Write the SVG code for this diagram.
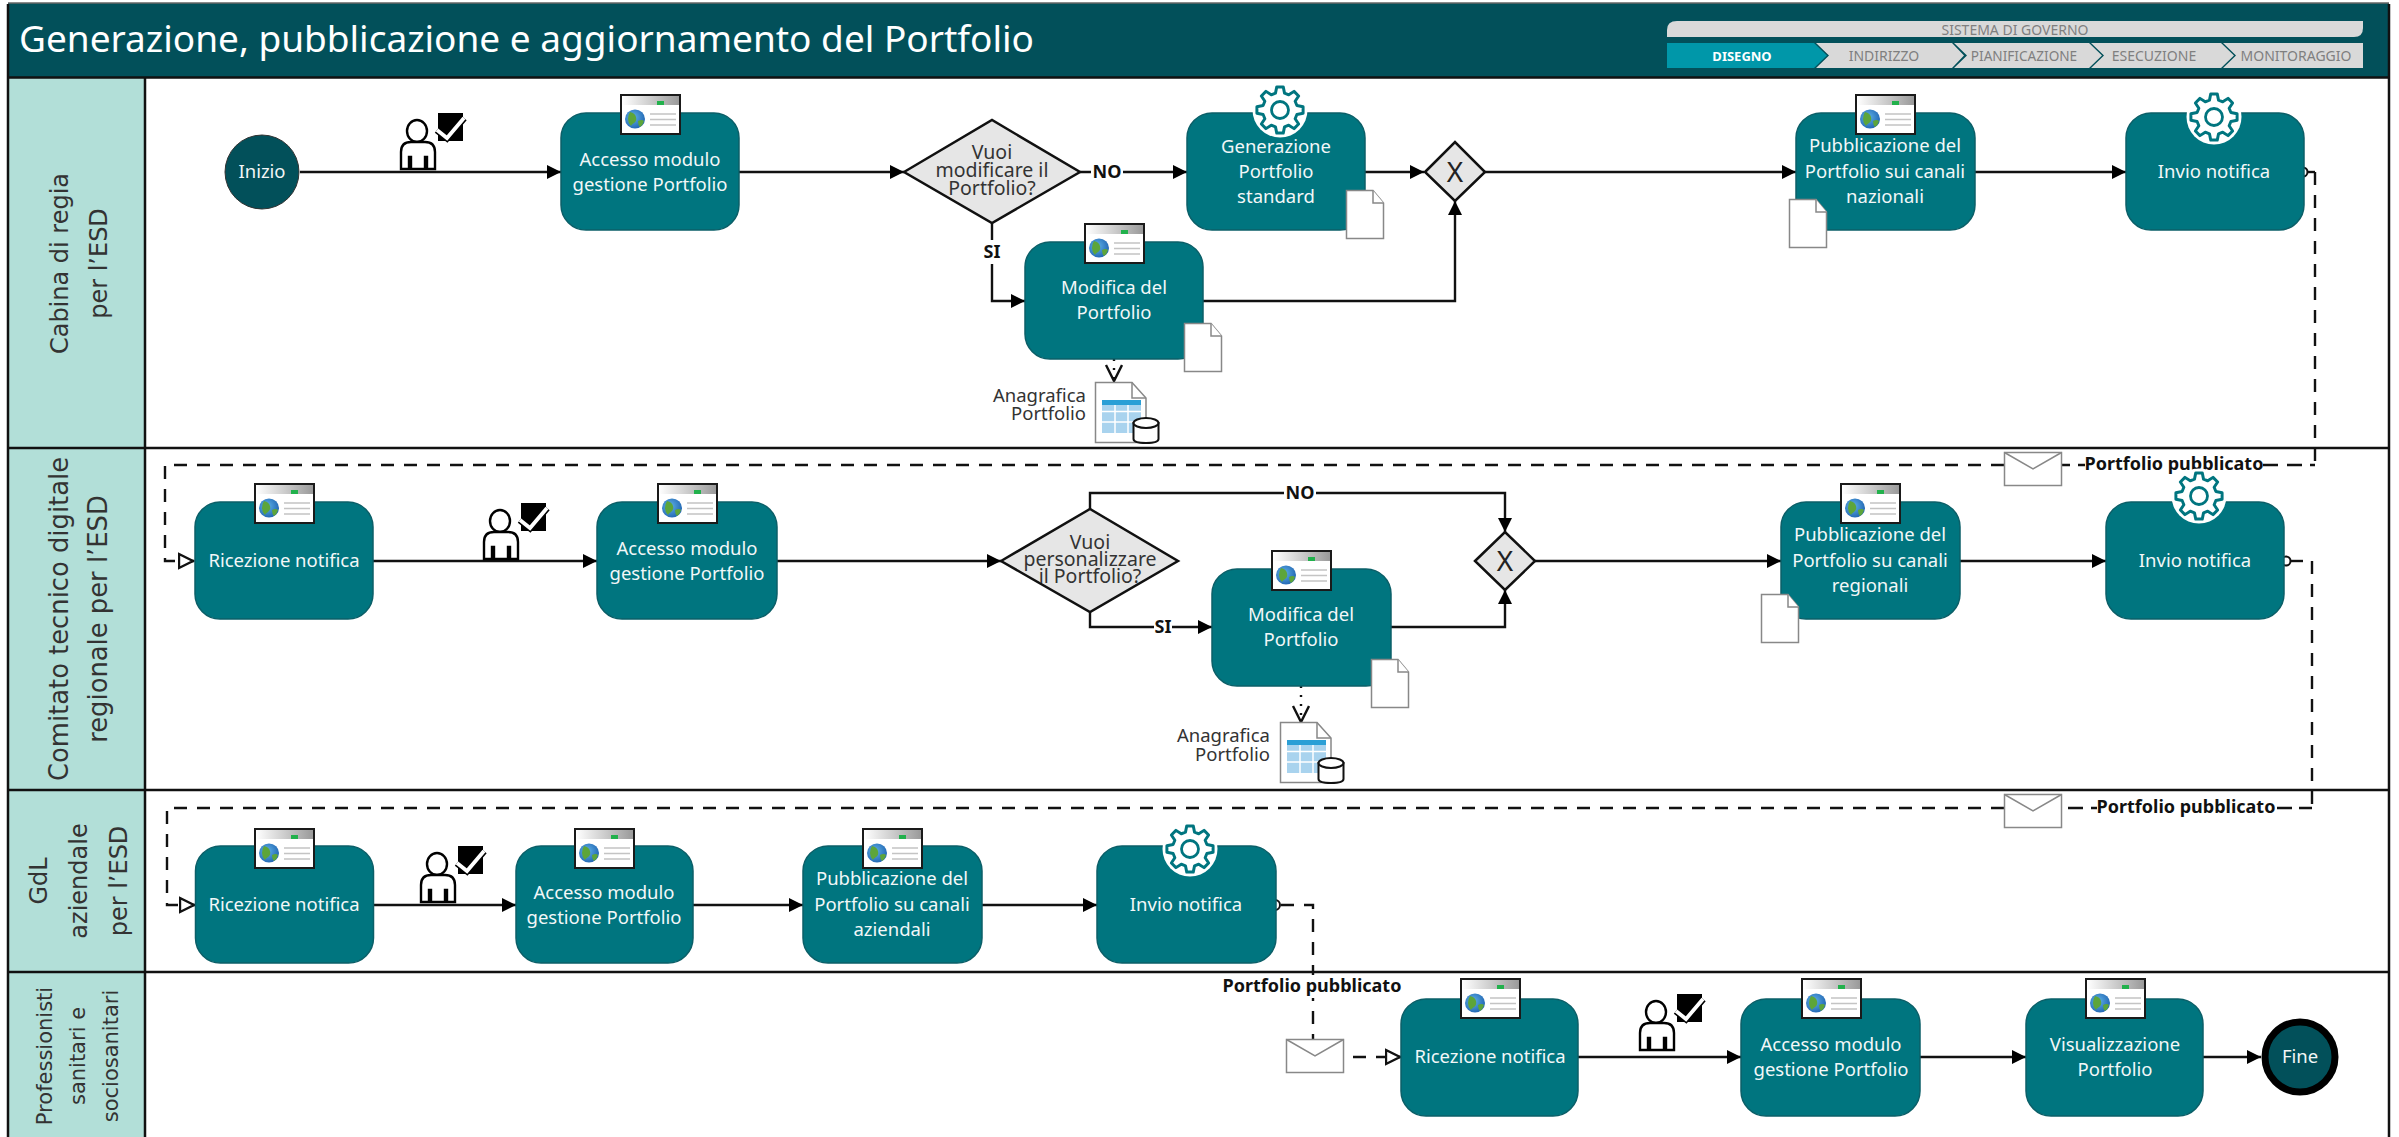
<svg xmlns="http://www.w3.org/2000/svg" xmlns:xlink="http://www.w3.org/1999/xlink" width="2399" height="1137" viewBox="0 0 2399 1137">
<style>
text{font-family:"Noto Sans","Open Sans","Liberation Sans",sans-serif}
.box{fill:#00757f;stroke:#0b5f68;stroke-width:1.5}
.bt{fill:#fff;font-size:18.5px;text-anchor:middle;opacity:.95}
.dec{fill:#e6e6e6;stroke:#111;stroke-width:2.5}
.dt{fill:#333;font-size:19.5px;text-anchor:middle}
.lane{fill:#b2dfd8}
.lt{font-family:"DejaVu Sans",sans-serif;fill:#333;text-anchor:middle}
.ln{fill:none;stroke:#111;stroke-width:2.5}
.flow{fill:none;stroke:#111;stroke-width:2.4;marker-end:url(#a)}
.msg{fill:none;stroke:#111;stroke-width:2.4;stroke-dasharray:13 10}
.sol{fill:none;stroke:#111;stroke-width:2.4}
.lb{fill:#111;font-size:18px;font-weight:700;text-anchor:middle}
.ti{font-size:14px;text-anchor:middle;fill:#7f7f7f}
.doc{fill:#fff;stroke:#888;stroke-width:1.5}
</style>
<defs>
<marker id="a" markerUnits="userSpaceOnUse" markerWidth="15" markerHeight="14" refX="14" refY="7" orient="auto"><path d="M0 0L14 7L0 14Z" fill="#000"/></marker>
<marker id="o" markerUnits="userSpaceOnUse" markerWidth="18" markerHeight="18" refX="16" refY="9" orient="auto"><path d="M1 2L15 9L1 16Z" fill="#fff" stroke="#111" stroke-width="2.4"/></marker>
<marker id="v" markerUnits="userSpaceOnUse" markerWidth="20" markerHeight="20" refX="17" refY="9" orient="auto"><path d="M1 1L17 9L1 17" fill="none" stroke="#111" stroke-width="2.4"/></marker>
<linearGradient id="bar" x1="0" x2="1" y1="0" y2="0"><stop offset="0" stop-color="#fff"/><stop offset="1" stop-color="#9a9a9a"/></linearGradient>
<radialGradient id="gl" cx=".4" cy=".4" r=".7"><stop offset="0" stop-color="#5fb2e8"/><stop offset="1" stop-color="#1c5fae"/></radialGradient>
<symbol id="browser" width="61" height="41" viewBox="0 0 61 41" overflow="visible">
<rect x="1" y="1" width="59" height="39" fill="#fff" stroke="#1a1a1a" stroke-width="2"/>
<rect x="2" y="2" width="57" height="9" fill="url(#bar)"/>
<rect x="37" y="7" width="7" height="4" fill="#22b14c"/>
<ellipse cx="15" cy="25" rx="10" ry="9.500" fill="url(#gl)"/>
<path d="M10 18q5 1 6 5t-2 6t-3 3q-3-3-3-7t2-7zM18 27q4-2 6 0q-1 4-4 6q-2-2-2-6z" fill="#5da53a"/>
<path d="M30 20H56M30 25.500H56M30 31H56" stroke="#c4c4c4" stroke-width="1.300" fill="none"/>
</symbol>
<symbol id="gear" width="60" height="60" viewBox="-30 -30 60 60" overflow="visible">
<circle r="27.500" fill="#fff"/>
<polygon transform="scale(1.060)" fill="#fff" stroke="#00757f" stroke-width="2.800" stroke-linejoin="round" points="-4.270,-15.940 -3.060,-21.790 3.060,-21.790 4.270,-15.940 8.250,-14.290 13.240,-17.570 17.570,-13.240 14.290,-8.250 15.940,-4.270 21.790,-3.060 21.790,3.060 15.940,4.270 14.290,8.250 17.570,13.240 13.240,17.570 8.250,14.290 4.270,15.940 3.060,21.790 -3.060,21.790 -4.270,15.940 -8.250,14.290 -13.240,17.570 -17.570,13.240 -14.290,8.250 -15.940,4.270 -21.790,3.060 -21.790,-3.060 -15.940,-4.270 -14.290,-8.250 -17.570,-13.240 -13.240,-17.570 -8.250,-14.290"/>
<circle r="8.500" fill="#fff" stroke="#00757f" stroke-width="2.800"/>
</symbol>
<symbol id="doc" width="38" height="49" viewBox="0 0 38 49" overflow="visible">
<path class="doc" d="M.5 .5H27L37.500 13V48.500H.5Z"/><path class="doc" d="M27 .5V13H37.500"/>
</symbol>
<symbol id="env" width="58" height="34" viewBox="0 0 58 34" overflow="visible">
<rect x=".5" y=".5" width="57" height="33" fill="#fff" stroke="#888" stroke-width="1.500"/>
<path d="M.5 .5L29 17L57.500 .5" fill="none" stroke="#888" stroke-width="1.500"/>
</symbol>
<symbol id="user" width="70" height="60" viewBox="0 0 70 60" overflow="visible">
<ellipse cx="17" cy="19" rx="10" ry="11" fill="#fff" stroke="#000" stroke-width="2.400"/>
<path d="M1 57V40q0-10 10-10H25q10 0 10 10V57H27V45H25V57H11V45H9V57Z" fill="#fff" stroke="#000" stroke-width="2.400"/>
<rect x="38" y="1" width="25" height="28" fill="#000"/>
<path d="M37 18L47 26L64 6" fill="none" stroke="#000" stroke-width="7"/>
<path d="M37 18L47 26L64 6" fill="none" stroke="#fff" stroke-width="3.800"/>
</symbol>
<symbol id="ana" width="64" height="62" viewBox="0 0 64 62" overflow="visible">
<path d="M.5 .5H37L51 16V60.500H.5Z" fill="#fff" stroke="#888" stroke-width="1.500"/>
<path d="M37 .5V16H51" fill="none" stroke="#888" stroke-width="1.500"/>
<rect x="7" y="18" width="39" height="33" fill="#a9d3ee"/>
<rect x="7" y="18" width="39" height="5" fill="#2a9fd6"/>
<path d="M7 29.500H46M7 40H46M20 23V51M33 23V51" stroke="#fff" stroke-width="1.500"/>
<path d="M38.500 41V57q0 4 12.500 4t12.500-4V41Z" fill="#fff" stroke="#111" stroke-width="2"/>
<ellipse cx="51" cy="41" rx="12.500" ry="5" fill="#fff" stroke="#111" stroke-width="2"/>
</symbol>
</defs>
<rect width="2399" height="1137" fill="#fff"/>
<g id="lanes">
<rect x="8" y="3" width="2381" height="74" fill="#02505a"/>
<rect class="lane" x="8" y="77" width="137" height="1060"/>
<path class="ln" d="M8 4V1137M2389 4V1137M145 77V1137M8 77.500H2389M8 448H2389M8 790H2389M8 972H2389"/>
<path d="M8 3H2389" stroke="#666" stroke-width="1.500"/>
</g>
<g id="header">
<text x="19" y="52" font-size="37" fill="#fff">Generazione, pubblicazione e aggiornamento del Portfolio</text>
<path d="M1677 21H2363V28Q2363 37 2354 37H1667V30Q1667 21 1677 21Z" fill="#d9d9d9"/>
<text class="ti" x="2015" y="34.500">SISTEMA DI GOVERNO</text>
<polygon points="1667,43 1814,43 1827,55.500 1814,68 1667,68" fill="#0097a9"/>
<polygon points="1816,43 1952,43 1964,55.500 1952,68 1816,68 1829,55.500" fill="#d9d9d9"/>
<polygon points="1954,43 2089,43 2102,55.500 2089,68 1954,68 1967,55.500" fill="#d9d9d9"/>
<polygon points="2091,43 2221,43 2234,55.500 2221,68 2091,68 2104,55.500" fill="#d9d9d9"/>
<polygon points="2223,43 2363,43 2363,68 2223,68 2236,55.500" fill="#d9d9d9"/>
<text class="ti" x="1742" y="60.500" style="fill:#fff;font-weight:700;font-size:13px">DISEGNO</text>
<text class="ti" x="1884" y="60.500">INDIRIZZO</text>
<text class="ti" x="2024" y="60.500" style="font-size:13.600px">PIANIFICAZIONE</text>
<text class="ti" x="2154" y="60.500">ESECUZIONE</text>
<text class="ti" x="2296" y="60.500">MONITORAGGIO</text>
</g>
<g id="lane-labels">
<g transform="translate(68 263.500) rotate(-90)" font-size="24"><text class="lt">Cabina di regia</text><text class="lt" y="39">per l’ESD</text></g>
<g transform="translate(68 619) rotate(-90)" font-size="25.800"><text class="lt">Comitato tecnico digitale</text><text class="lt" y="39">regionale per l’ESD</text></g>
<g transform="translate(47 881) rotate(-90)" font-size="24"><text class="lt">GdL</text><text class="lt" y="40">aziendale</text><text class="lt" y="80">per l’ESD</text></g>
<g transform="translate(52 1056) rotate(-90)" font-size="21"><text class="lt">Professionisti</text><text class="lt" y="33">sanitari e</text><text class="lt" y="66">sociosanitari</text></g>
</g>
<g id="connectors">
<path class="flow" d="M300 172H561"/>
<path class="flow" d="M739 172H904"/>
<path class="flow" d="M1080 172H1187"/>
<path class="flow" d="M1365 172H1424"/>
<path class="flow" d="M1485 172H1796"/>
<path class="flow" d="M992 223V301H1025"/>
<path class="flow" d="M1203 301H1455V201"/>
<path class="flow" d="M1975 172H2126"/>
<path class="flow" d="M373 561H597"/>
<path class="flow" d="M777 561H1001"/>
<path class="flow" d="M1090 509V493H1505V532"/>
<path class="flow" d="M1090 612V627H1212"/>
<path class="flow" d="M1391 627H1505V590"/>
<path class="flow" d="M1535 561H1781"/>
<path class="flow" d="M1960 561H2106"/>
<path class="flow" d="M373 905H516"/>
<path class="flow" d="M693 905H803"/>
<path class="flow" d="M982 905H1097"/>
<path class="flow" d="M1578 1057H1741"/>
<path class="flow" d="M1920 1057H2026"/>
<path class="flow" d="M2203 1057H2261"/>
<path class="sol" d="M2307 172H2315"/>
<path class="msg" d="M2315 172V465"/>
<path class="sol" d="M2062 465H2070M2078 465H2085M2263 465H2278M2287 465H2302M2310 465H2315"/>
<path class="msg" d="M2004 465H165V561H194" marker-end="url(#o)"/>
<path class="sol" d="M2288 561H2303"/>
<path class="msg" d="M2312 561V808"/>
<path class="sol" d="M2068 808H2083M2091 808H2097M2277 808H2292M2299 808H2312"/>
<path class="msg" d="M2004 808H167V905H195" marker-end="url(#o)"/>
<path class="msg" d="M1281 905H1313V1039"/>
<path class="msg" d="M1353 1057H1401" marker-end="url(#o)"/>
<path d="M1114 359V381" fill="none" stroke="#111" stroke-width="2.400" stroke-dasharray="2 7" marker-end="url(#v)"/>
<path d="M1301 686V722" fill="none" stroke="#111" stroke-width="2.400" stroke-dasharray="2 7" marker-end="url(#v)"/>
<circle cx="2303" cy="172" r="4.500" fill="#fff" stroke="#111" stroke-width="2"/>
<circle cx="2286" cy="561" r="4.500" fill="#fff" stroke="#111" stroke-width="2"/>
<circle cx="1275" cy="905" r="5" fill="#fff" stroke="#111" stroke-width="2"/>
<use href="#env" x="2004" y="452"/>
<use href="#env" x="2004" y="794"/>
<use href="#env" x="1286" y="1039"/>
<use href="#user" x="400" y="112"/>
<use href="#user" x="483" y="502"/>
<use href="#user" x="420" y="845"/>
<use href="#user" x="1639" y="993"/>
<g id="labels">
<rect x="1091" y="160" width="32" height="24" fill="#fff"/><text class="lb" x="1107" y="178">NO</text>
<rect x="982" y="240" width="20" height="24" fill="#fff"/><text class="lb" x="992" y="258">SI</text>
<rect x="1284" y="482" width="32" height="24" fill="#fff"/><text class="lb" x="1300" y="499">NO</text>
<rect x="1154" y="615" width="18" height="24" fill="#fff"/><text class="lb" x="1163" y="633">SI</text>
<text class="lb" x="2174" y="470">Portfolio pubblicato</text>
<text class="lb" x="2186" y="813">Portfolio pubblicato</text>
<rect x="1224" y="975" width="177" height="23" fill="#fff"/><text class="lb" x="1312" y="992">Portfolio pubblicato</text>
</g>
</g>
<g id="n-inizio"><circle cx="262" cy="172" r="37" fill="#02505a" stroke="#333" stroke-width="1"/><text class="bt" x="262" y="178">Inizio</text></g>
<g id="n-accesso1"><rect class="box" x="561" y="113" width="178" height="117" rx="25"/><use href="#browser" x="620" y="94"/><text class="bt" x="650" y="166">Accesso modulo</text><text class="bt" x="650" y="191">gestione Portfolio</text></g>
<g id="n-dec1"><polygon class="dec" points="904,172 992,120 1080,172 992,223"/><text class="dt" y="159"><tspan x="992">Vuoi</tspan><tspan x="992" dy="18">modificare il</tspan><tspan x="992" dy="18">Portfolio?</tspan></text></g>
<g id="n-gen"><rect class="box" x="1187" y="113" width="178" height="117" rx="25"/><use href="#gear" x="1250" y="80"/><text class="bt" x="1276" y="153">Generazione</text><text class="bt" x="1276" y="178">Portfolio</text><text class="bt" x="1276" y="203">standard</text><use href="#doc" x="1346" y="190"/></g>
<g id="n-gate1"><polygon class="dec" points="1425,172 1455,142 1485,172 1455,201"/><text x="1455" y="182" font-size="28" fill="#222" text-anchor="middle">X</text></g>
<g id="n-mod1"><rect class="box" x="1025" y="242" width="178" height="117" rx="25"/><use href="#browser" x="1084" y="223"/><text class="bt" x="1114" y="294">Modifica del</text><text class="bt" x="1114" y="319">Portfolio</text><use href="#doc" x="1184" y="323"/></g>
<g id="n-ana1"><use href="#ana" x="1095" y="382"/><text class="dt" style="text-anchor:end;font-size:18.500px" y="402"><tspan x="1086">Anagrafica</tspan><tspan x="1086" dy="18">Portfolio</tspan></text></g>
<g id="n-pub1"><rect class="box" x="1796" y="113" width="179" height="117" rx="25"/><use href="#browser" x="1855" y="94"/><text class="bt" x="1885" y="152">Pubblicazione del</text><text class="bt" x="1885" y="178">Portfolio sui canali</text><text class="bt" x="1885" y="203">nazionali</text><use href="#doc" x="1789" y="199"/></g>
<g id="n-inv1"><rect class="box" x="2126" y="113" width="178" height="117" rx="25"/><use href="#gear" x="2184" y="87"/><text class="bt" x="2214" y="178">Invio notifica</text></g>

<g id="n-ric2"><rect class="box" x="195" y="502" width="178" height="117" rx="25"/><use href="#browser" x="254" y="483"/><text class="bt" x="284" y="567">Ricezione notifica</text></g>
<g id="n-acc2"><rect class="box" x="597" y="502" width="180" height="117" rx="25"/><use href="#browser" x="657" y="483"/><text class="bt" x="687" y="555">Accesso modulo</text><text class="bt" x="687" y="580">gestione Portfolio</text></g>
<g id="n-dec2"><polygon class="dec" points="1001,561 1090,509 1178,561 1090,612"/><text class="dt" y="549"><tspan x="1090">Vuoi</tspan><tspan x="1090" dy="17">personalizzare</tspan><tspan x="1090" dy="17">il Portfolio?</tspan></text></g>
<g id="n-mod2"><rect class="box" x="1212" y="569" width="179" height="117" rx="25"/><use href="#browser" x="1271" y="550"/><text class="bt" x="1301" y="621">Modifica del</text><text class="bt" x="1301" y="646">Portfolio</text><use href="#doc" x="1371" y="659"/></g>
<g id="n-ana2"><use href="#ana" x="1280" y="722"/><text class="dt" style="text-anchor:end;font-size:18.500px" y="742"><tspan x="1270">Anagrafica</tspan><tspan x="1270" dy="19">Portfolio</tspan></text></g>
<g id="n-gate2"><polygon class="dec" points="1475,561 1505,532 1535,561 1505,590"/><text x="1505" y="571" font-size="28" fill="#222" text-anchor="middle">X</text></g>
<g id="n-pub2"><rect class="box" x="1781" y="502" width="179" height="117" rx="25"/><use href="#browser" x="1840" y="483"/><text class="bt" x="1870" y="541">Pubblicazione del</text><text class="bt" x="1870" y="567">Portfolio su canali</text><text class="bt" x="1870" y="592">regionali</text><use href="#doc" x="1761" y="594"/></g>
<g id="n-inv2"><rect class="box" x="2106" y="502" width="178" height="117" rx="25"/><use href="#gear" x="2169" y="466"/><text class="bt" x="2195" y="567">Invio notifica</text></g>

<g id="n-ric3"><rect class="box" x="195.500" y="846" width="178" height="117" rx="25"/><use href="#browser" x="254" y="828"/><text class="bt" x="284" y="911">Ricezione notifica</text></g>
<g id="n-acc3"><rect class="box" x="516" y="846" width="177" height="117" rx="25"/><use href="#browser" x="574" y="828"/><text class="bt" x="604" y="899">Accesso modulo</text><text class="bt" x="604" y="924">gestione Portfolio</text></g>
<g id="n-pub3"><rect class="box" x="803" y="846" width="179" height="117" rx="25"/><use href="#browser" x="862" y="828"/><text class="bt" x="892" y="885">Pubblicazione del</text><text class="bt" x="892" y="911">Portfolio su canali</text><text class="bt" x="892" y="936">aziendali</text></g>
<g id="n-inv3"><rect class="box" x="1097" y="846" width="179" height="117" rx="25"/><use href="#gear" x="1160" y="819"/><text class="bt" x="1186" y="911">Invio notifica</text></g>

<g id="n-ric4"><rect class="box" x="1401" y="999" width="177" height="117" rx="25"/><use href="#browser" x="1460" y="978"/><text class="bt" x="1490" y="1063">Ricezione notifica</text></g>
<g id="n-acc4"><rect class="box" x="1741" y="999" width="179" height="117" rx="25"/><use href="#browser" x="1801" y="978"/><text class="bt" x="1831" y="1051">Accesso modulo</text><text class="bt" x="1831" y="1076">gestione Portfolio</text></g>
<g id="n-vis"><rect class="box" x="2026" y="999" width="177" height="117" rx="25"/><use href="#browser" x="2085" y="978"/><text class="bt" x="2115" y="1051">Visualizzazione</text><text class="bt" x="2115" y="1076">Portfolio</text></g>
<g id="n-fine"><circle cx="2300" cy="1057" r="35" fill="#02505a" stroke="#000" stroke-width="7"/><text class="bt" x="2300" y="1063">Fine</text></g>
</svg>
